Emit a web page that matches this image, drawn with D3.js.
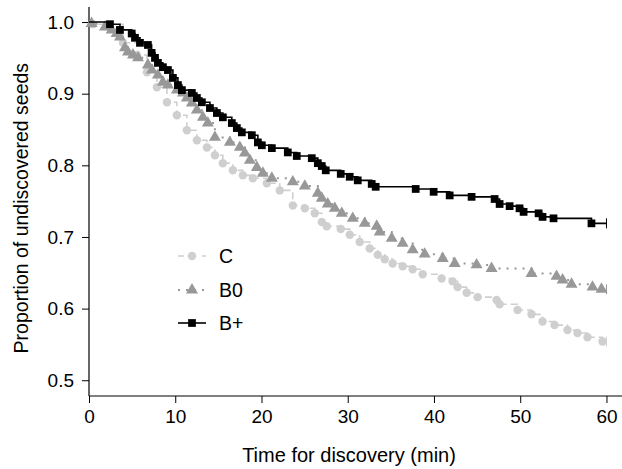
<!DOCTYPE html>
<html>
<head>
<meta charset="utf-8">
<script src="https://cdn.jsdelivr.net/npm/d3@7/dist/d3.min.js"></script>
<style>
  html, body { margin: 0; padding: 0; background: #fff; }
  svg { display: block; }
  text { font-family: "Liberation Sans", Arial, sans-serif; fill: #000; }
</style>
</head>
<body>
<svg id="chart" width="622" height="469"></svg>
<script>
// ---- data ----
const seriesNames = ["C", "B0", "B+"];

const timeC = [0, 0.46, 3.94, 5.56, 6.72, 7.88, 9.04, 10.19, 11.35, 12.51, 13.67, 14.60, 15.52, 16.68, 17.84, 19.00, 20.62, 22.12, 23.63, 25.02, 26.18, 26.99, 27.57, 29.19, 30.23, 31.39, 32.55, 33.48, 34.29, 35.21, 36.37, 37.53, 38.69, 40.89, 42.16, 42.74, 43.79, 45.06, 47.26, 47.61, 49.69, 51.31, 52.59, 53.98, 55.48, 56.64, 57.80, 59.54];
const survC = [1.0, 0.997, 0.971, 0.954, 0.930, 0.909, 0.888, 0.870, 0.849, 0.835, 0.825, 0.814, 0.803, 0.793, 0.786, 0.782, 0.775, 0.765, 0.744, 0.740, 0.733, 0.721, 0.715, 0.711, 0.703, 0.693, 0.684, 0.675, 0.669, 0.663, 0.659, 0.655, 0.648, 0.642, 0.638, 0.630, 0.622, 0.616, 0.612, 0.606, 0.598, 0.592, 0.582, 0.577, 0.570, 0.566, 0.560, 0.554];

const timeB0 = [0, 0.3, 1.85, 2.63, 3.21, 3.59, 4.17, 4.52, 5.10, 5.68, 6.83, 7.30, 7.99, 8.57, 9.15, 10.19, 10.89, 11.35, 11.93, 12.51, 13.21, 13.78, 14.60, 16.33, 17.49, 18.07, 18.65, 19.46, 20.16, 21.20, 23.63, 25.02, 26.53, 26.99, 27.68, 28.50, 29.31, 30.58, 31.97, 33.36, 33.71, 35.10, 36.37, 37.53, 38.92, 41.01, 42.40, 44.94, 46.68, 51.31, 54.21, 54.91, 55.95, 58.38, 59.42];
const survB0 = [1.0, 0.998, 0.993, 0.989, 0.984, 0.979, 0.964, 0.958, 0.954, 0.950, 0.940, 0.933, 0.926, 0.916, 0.912, 0.905, 0.901, 0.894, 0.887, 0.877, 0.867, 0.859, 0.839, 0.832, 0.825, 0.817, 0.807, 0.797, 0.789, 0.782, 0.777, 0.771, 0.761, 0.754, 0.746, 0.740, 0.733, 0.726, 0.719, 0.715, 0.707, 0.698, 0.691, 0.682, 0.676, 0.670, 0.663, 0.661, 0.656, 0.649, 0.645, 0.640, 0.634, 0.630, 0.627];

const timeBp = [0, 2.43, 3.59, 4.95, 5.33, 5.91, 6.83, 7.26, 7.65, 7.99, 8.57, 9.15, 9.73, 10.31, 10.77, 11.93, 12.51, 13.09, 14.02, 14.83, 15.52, 16.56, 17.14, 17.72, 18.88, 19.58, 20.04, 21.20, 23.05, 24.09, 25.83, 26.53, 26.99, 27.45, 29.19, 30.23, 31.16, 32.78, 33.24, 37.88, 39.96, 41.82, 44.36, 47.03, 47.61, 48.77, 49.92, 50.39, 52.13, 52.59, 53.86, 58.26];
const survBp = [1.0, 0.997, 0.989, 0.984, 0.978, 0.971, 0.968, 0.957, 0.950, 0.943, 0.937, 0.933, 0.922, 0.912, 0.905, 0.901, 0.894, 0.888, 0.880, 0.873, 0.867, 0.859, 0.852, 0.846, 0.842, 0.832, 0.828, 0.824, 0.818, 0.813, 0.810, 0.803, 0.799, 0.793, 0.788, 0.784, 0.779, 0.774, 0.770, 0.767, 0.763, 0.758, 0.756, 0.753, 0.746, 0.743, 0.740, 0.735, 0.733, 0.728, 0.726, 0.719];

const endTime = 60;
const xTicks = [0, 10, 20, 30, 40, 50, 60];
const yTicks = [0.5, 0.6, 0.7, 0.8, 0.9, 1.0];
const xTitle = "Time for discovery (min)";
const yTitle = "Proportion of undiscovered seeds";

// ---- chart ----
const svg = d3.select("#chart");
const x = d3.scaleLinear().domain([0, 61.8]).range([89, 622]);
const y = d3.scaleLinear().domain([0.478, 1.021]).range([396, 7]);

const styles = {
  "C":  { color: "#cfcfcf", dash: "7,4", width: 1.6, shape: d3.symbolCircle, size: 56 },
  "B0": { color: "#989898", dash: "2,6", width: 2, shape: d3.symbolTriangle, size: 62 },
  "B+": { color: "#000000", dash: null, width: 1.6, shape: d3.symbolSquare, size: 60 }
};

const series = [
  { name: "C", t: timeC, s: survC },
  { name: "B0", t: timeB0, s: survB0 },
  { name: "B+", t: timeBp, s: survBp }
];

// axes
const xAxis = d3.axisBottom(x).tickValues(xTicks).tickFormat(d3.format("d")).tickSize(7).tickSizeOuter(0).tickPadding(7);
const yAxis = d3.axisLeft(y).tickValues(yTicks).tickFormat(d3.format(".1f")).tickSize(7).tickSizeOuter(0).tickPadding(8);

const gx = svg.append("g").attr("transform", `translate(0,${y.range()[0]})`).call(xAxis);
const gy = svg.append("g").attr("transform", `translate(${x.range()[0]},0)`).call(yAxis);
[gx, gy].forEach(g => {
  g.select(".domain").attr("stroke", "#000").attr("stroke-width", 1.2);
  g.selectAll(".tick line").attr("stroke", "#000").attr("stroke-width", 1);
  g.selectAll(".tick text").attr("font-size", 19).attr("font-family", "Liberation Sans, Arial, sans-serif");
});
gx.select(".domain").attr("d", `M${x(0)},0H${x.range()[1]}`);
gy.select(".domain").attr("d", `M0,${y.range()[1]}V${y.range()[0]}`);

// titles
svg.append("text").attr("x", 349).attr("y", 462).attr("text-anchor", "middle")
  .attr("font-size", 20).text(xTitle);
svg.append("text").attr("transform", `translate(28,${(y(1.0)+y(0.5))/2 + 7}) rotate(-90)`)
  .attr("text-anchor", "middle").attr("font-size", 19.5).text(yTitle);

// curves
const stepLine = d3.line().x(d => x(d[0])).y(d => y(d[1])).curve(d3.curveStepAfter);
series.forEach(sr => {
  const st = styles[sr.name];
  const pts = sr.t.map((t, i) => [t, sr.s[i]]);
  const linePts = pts.concat([[endTime, sr.s[sr.s.length - 1]]]);
  const g = svg.append("g");
  g.append("path").attr("d", stepLine(linePts)).attr("fill", "none")
    .attr("stroke", st.color).attr("stroke-width", st.width)
    .attr("stroke-dasharray", st.dash);
  g.selectAll("path.mk").data(pts.slice(1)).join("path").attr("class", "mk")
    .attr("transform", d => `translate(${x(d[0])},${y(d[1])})`)
    .attr("d", d3.symbol().type(st.shape).size(st.size))
    .attr("fill", st.color);
  // censor mark at the end
  const last = linePts[linePts.length - 1];
  g.append("line").attr("x1", x(last[0])).attr("x2", x(last[0]))
    .attr("y1", y(last[1]) - 5).attr("y2", y(last[1]) + 5)
    .attr("stroke", st.color).attr("stroke-width", 1);
});

// legend
const legendY = [256, 290, 323];
series.forEach((sr, i) => {
  const st = styles[sr.name];
  const g = svg.append("g").attr("transform", `translate(0,${legendY[i]})`);
  g.append("line").attr("x1", 178).attr("x2", 206).attr("y1", 0).attr("y2", 0)
    .attr("stroke", st.color).attr("stroke-width", st.width)
    .attr("stroke-dasharray", sr.name === "B0" ? "2,6" : (sr.name === "C" ? "6,6" : null));
  g.append("path").attr("transform", "translate(192,0)")
    .attr("d", d3.symbol().type(st.shape).size(st.size)).attr("fill", st.color);
  g.append("text").attr("x", 219).attr("y", 7).attr("font-size", 19.5).text(sr.name);
});
</script>
</body>
</html>
